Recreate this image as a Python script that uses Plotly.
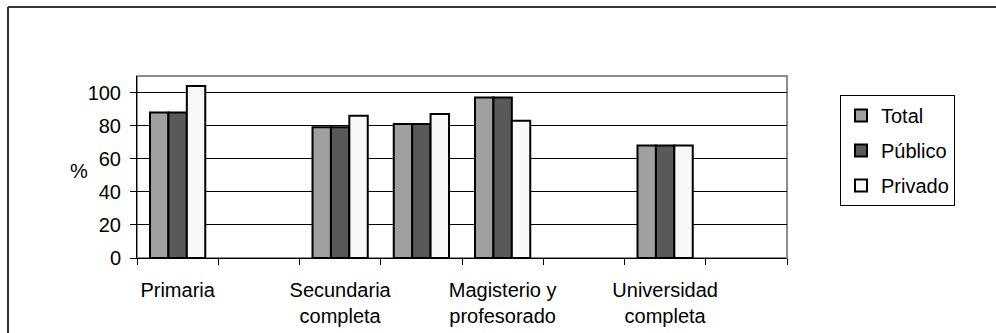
import plotly.graph_objects as go

# Categories (odd ones exist in the chart but their labels are skipped)
categories = ["Primaria", "Secundaria incompleta", "Secundaria completa", "Técnica",
              "Magisterio y profesorado", "Universidad incompleta", "Universidad completa", "Postgrado"]
category_labels = ["Primaria", "", "Secundaria<br>completa", "", "Magisterio y<br>profesorado",
                   "", "Universidad<br>completa", ""]
total = [88, None, 79, 81, 97, None, 68, None]
publico = [88, None, 79, 81, 97, None, 68, None]
privado = [104, None, 86, 87, 83, None, 68, None]
y_ticks = [0, 20, 40, 60, 80, 100]

FONT = "Liberation Sans, Arial, sans-serif"
FS = 20
W, H = 996, 333
L, R, T, B = 137, 209, 76, 75
pw, ph = W - L - R, H - T - B

fig = go.Figure()
for name, vals, col in [("Total", total, "#A0A0A0"),
                        ("Público", publico, "#595959"),
                        ("Privado", privado, "#F8F8F8")]:
    fig.add_trace(go.Bar(x=categories, y=vals, name=name, legendgroup=name,
                         marker=dict(color=col, line=dict(color="black", width=2))))

fig.update_layout(
    width=W, height=H, margin=dict(l=L, r=R, t=T, b=B, autoexpand=False),
    paper_bgcolor="white", plot_bgcolor="white",
    font=dict(family=FONT, size=FS, color="black"),
    barmode="group", bargap=0.32, bargroupgap=0,
    showlegend=True,
    legend=dict(x=(840 - L) / pw, y=(H - B - 206) / ph, xanchor="left", yanchor="bottom",
                bordercolor="black", borderwidth=1, bgcolor="white",
                tracegroupgap=6, itemwidth=30,
                font=dict(family=FONT, size=FS)),
)
fig.update_xaxes(type="category", categoryorder="array", categoryarray=categories,
                 tickvals=categories, ticktext=category_labels, tickangle=0, automargin=False,
                 range=[-0.5, 7.5], tickson="boundaries", ticks="outside", ticklen=6,
                 tickcolor="black", tickwidth=1, showline=True, linecolor="black",
                 linewidth=1, showgrid=False, ticklabelstandoff=14)
fig.update_yaxes(range=[0, 110], tickvals=y_ticks, ticks="outside", ticklen=6, automargin=False,
                 tickcolor="black", showgrid=True, gridcolor="black", gridwidth=1,
                 showline=True, linecolor="black", linewidth=1, zeroline=False,
                 ticklabelstandoff=5)

# plot area border (gray)
fig.add_shape(type="rect", xref="paper", yref="paper", x0=0, x1=1, y0=0, y1=1,
              line=dict(color="#8C8C8C", width=2), layer="below")
# outer chart border (left and top visible)
fx0 = (8 - L) / pw
fy1 = (H - B - 7) / ph
fig.add_shape(type="line", xref="paper", yref="paper", x0=fx0, x1=fx0, y0=fy1, y1=-1,
              line=dict(color="#333333", width=2))
fig.add_shape(type="line", xref="paper", yref="paper", x0=fx0, x1=2, y0=fy1, y1=fy1,
              line=dict(color="#333333", width=2))
# y axis title
fig.add_annotation(text="%", xref="paper", yref="paper", x=(68 - L) / pw, y=0.48,
                   showarrow=False, font=dict(family=FONT, size=FS))

fig.write_html("out.html")
